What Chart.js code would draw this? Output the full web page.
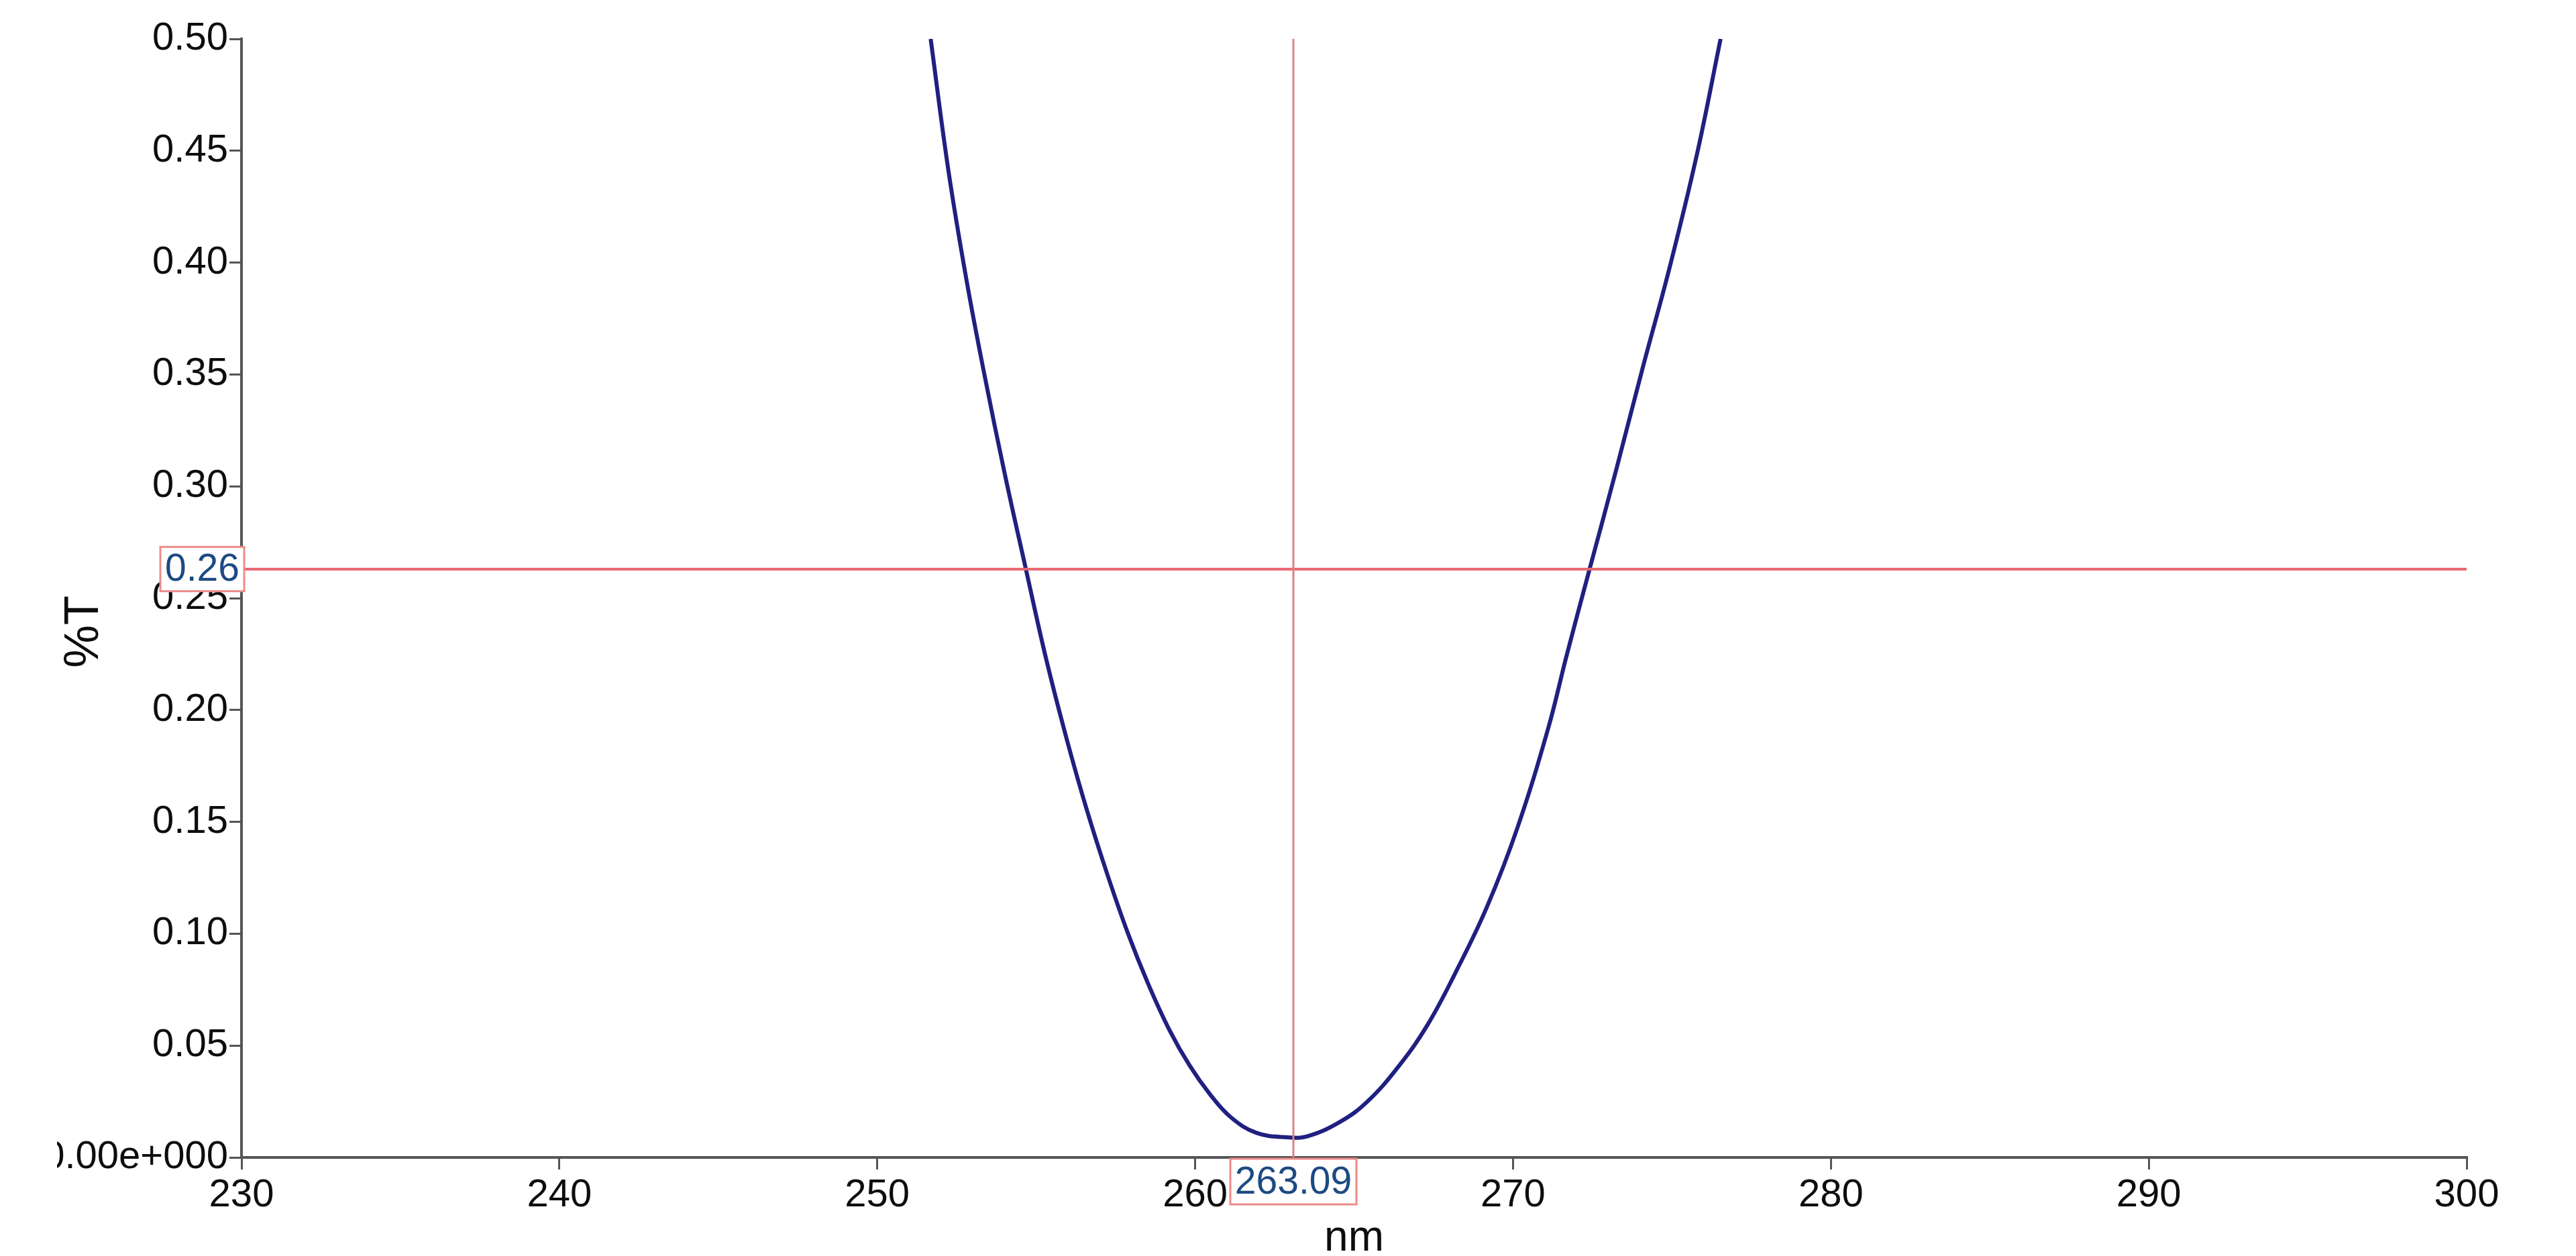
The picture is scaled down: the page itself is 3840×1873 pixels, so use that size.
<!DOCTYPE html>
<html>
<head>
<meta charset="utf-8">
<title>%T scan</title>
<script src="https://cdn.jsdelivr.net/npm/chart.js@4.4.1/dist/chart.umd.min.js"></script>
<style>
  html, body { margin: 0; padding: 0; background: #fff; overflow: hidden; }
  #wrap { width: 3840px; height: 1873px; }
</style>
</head>
<body>
<div id="wrap"><canvas id="scan"></canvas></div>
<script>
// values
const wavelengths = [251.68, 252.24, 252.81, 253.37, 254.02, 254.66, 255.31, 255.96, 256.60, 257.25,
  257.89, 258.54, 259.19, 259.83, 260.48, 261.12, 261.93, 262.90, 263.54, 264.57,
  265.42, 266.36, 267.30, 268.24, 269.18, 270.13, 271.11, 271.68, 272.39, 273.24,
  274.08, 274.93, 275.78, 276.53];
const transmittance = [0.500, 0.441, 0.392, 0.350, 0.305, 0.264, 0.223, 0.187, 0.155, 0.126,
  0.100, 0.077, 0.057, 0.041, 0.028, 0.018, 0.011, 0.009, 0.0095, 0.016,
  0.025, 0.040, 0.059, 0.084, 0.112, 0.147, 0.192, 0.224, 0.262, 0.307,
  0.353, 0.398, 0.448, 0.500];

const xTicks = [230, 240, 250, 260, 270, 280, 290, 300];
const yTicks = [0, 0.05, 0.10, 0.15, 0.20, 0.25, 0.30, 0.35, 0.40, 0.45, 0.50];
const yTickLabels = ['0.00e+000', '0.05', '0.10', '0.15', '0.20', '0.25', '0.30', '0.35', '0.40', '0.45', '0.50'];

// cursor readout
const cursorNm = 263.09;
const cursorT = 0.263;

const FONT = '"Liberation Sans", Arial, sans-serif';
Chart.defaults.font.family = FONT;
Chart.defaults.color = '#0d0d0d';

function box(ctx, x, y, w, h, text) {
  ctx.fillStyle = '#fff';
  ctx.fillRect(x, y, w, h);
  ctx.strokeStyle = '#ee8a8a';
  ctx.lineWidth = 3;
  ctx.strokeRect(x, y, w, h);
  ctx.fillStyle = '#1d4a82';
  ctx.textAlign = 'center';
  ctx.textBaseline = 'middle';
  ctx.fillText(text, x + w / 2, y + h / 2 + 2);
}

const readout = {
  id: 'readout',
  afterDraw(chart) {
    const { ctx, chartArea, scales } = chart;
    ctx.save();
    // the printout is cut off on the left, through the first "0" of 0.00e+000
    ctx.fillStyle = '#fff';
    ctx.fillRect(0, chartArea.bottom - 45, 85, 90);

    ctx.font = '57px ' + FONT;
    const yPix = scales.y.getPixelForValue(cursorT);
    box(ctx, chartArea.left - 121, yPix - 33, 125, 66, cursorT.toFixed(2));
    const xPix = scales.x.getPixelForValue(cursorNm);
    box(ctx, xPix - 94, chartArea.bottom + 2, 188, 68, cursorNm.toFixed(2));

    // y axis title sits a bit below the middle in the original
    ctx.translate(chartArea.left - 234, chartArea.top + (chartArea.bottom - chartArea.top) * 0.53);
    ctx.rotate(-Math.PI / 2);
    ctx.font = '72px ' + FONT;
    ctx.fillStyle = '#0d0d0d';
    ctx.textAlign = 'center';
    ctx.textBaseline = 'middle';
    ctx.fillText('%T', 0, 0);
    ctx.restore();
  }
};

new Chart(document.getElementById('scan'), {
  type: 'line',
  data: {
    datasets: [
      {
        data: [{ x: cursorNm, y: 0 }, { x: cursorNm, y: 0.5 }],
        borderColor: '#dc8286',
        borderWidth: 3,
        pointRadius: 0
      },
      {
        data: [{ x: xTicks[0], y: cursorT }, { x: xTicks[xTicks.length - 1], y: cursorT }],
        borderColor: '#e8646c',
        borderWidth: 4,
        pointRadius: 0
      },
      {
        data: wavelengths.map((w, i) => ({ x: w, y: transmittance[i] })),
        borderColor: '#1f2080',
        borderWidth: 6,
        pointRadius: 0,
        tension: 0.4
      }
    ]
  },
  options: {
    responsive: true,
    maintainAspectRatio: false,
    devicePixelRatio: 1,
    animation: false,
    layout: { padding: { top: 58, right: 163, left: 0, bottom: 0 } },
    plugins: { legend: { display: false }, tooltip: { enabled: false } },
    scales: {
      x: {
        type: 'linear',
        min: 230,
        max: 300,
        afterBuildTicks: s => { s.ticks = xTicks.map(v => ({ value: v })); },
        afterFit: s => { s.height = 147; },
        ticks: { font: { size: 58 }, padding: 4, maxRotation: 0, callback: v => String(v) },
        grid: { drawOnChartArea: false, tickLength: 18, color: '#555', lineWidth: 3 },
        border: { display: true, color: '#555', width: 4 },
        title: { display: true, text: 'nm', font: { size: 64, lineHeight: 0.8 }, padding: 0, color: '#0d0d0d' }
      },
      y: {
        min: 0,
        max: 0.5,
        afterBuildTicks: s => { s.ticks = yTicks.map(v => ({ value: v })); },
        afterFit: s => { s.width = 360; },
        ticks: { font: { size: 58 }, padding: 2, callback: (v, i) => yTickLabels[i] },
        grid: { drawOnChartArea: false, tickLength: 18, color: '#555', lineWidth: 3 },
        border: { display: true, color: '#555', width: 4 }
      }
    }
  },
  plugins: [readout]
});
</script>
</body>
</html>
